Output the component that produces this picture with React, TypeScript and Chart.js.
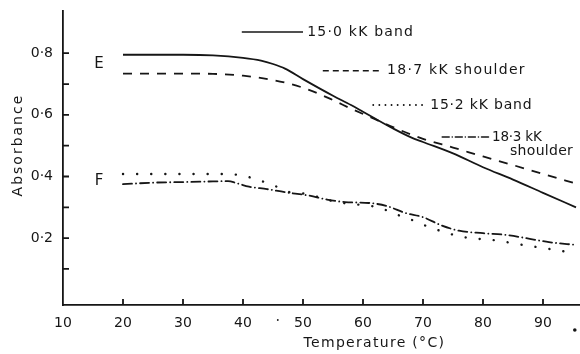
import React, { useEffect, useRef } from "react";
import { Chart, registerables } from "chart.js";

Chart.register(...registerables);

const INK = "#161616";
const FONT = "'DejaVu Sans', 'Noto Sans', sans-serif";

// Axis ranges and ticks
const xMin = 10;
const xMax = 96;
const xTicks = [10, 20, 30, 40, 50, 60, 70, 80, 90];
const yMin = -0.017;
const yMax = 0.937;
const yTicks = [0.1, 0.2, 0.3, 0.4, 0.5, 0.6, 0.7, 0.8];
const yLabelled = [0.2, 0.4, 0.6, 0.8];

// E : 15.0 kK band (solid)
const band150Temp = [20, 25, 30, 35, 40, 43, 45, 47, 50, 55, 58, 60, 62, 65, 68, 70, 75, 80, 85, 90, 95.5];
const band150Abs = [0.795, 0.795, 0.795, 0.793, 0.785, 0.776, 0.765, 0.75, 0.716, 0.662, 0.632, 0.61, 0.588, 0.556, 0.527, 0.512, 0.475, 0.43, 0.39, 0.347, 0.3];

// E : 18.7 kK shoulder (dashed)
const sh187Temp = [20, 25, 30, 35, 40, 45, 50, 55, 58, 62, 65, 70, 75, 80, 85, 90, 95.5];
const sh187Abs = [0.734, 0.734, 0.734, 0.733, 0.727, 0.713, 0.688, 0.648, 0.62, 0.586, 0.56, 0.522, 0.494, 0.465, 0.437, 0.408, 0.377];

// F : 15.2 kK band (dotted)
const band152Temp = [20, 25, 30, 35, 38, 40, 42, 45, 48, 51, 53, 56, 60, 63, 65, 67, 69, 71, 74, 76, 78, 82, 86, 88, 92, 95.5];
const band152Abs = [0.408, 0.408, 0.408, 0.408, 0.407, 0.403, 0.392, 0.372, 0.348, 0.343, 0.33, 0.316, 0.307, 0.298, 0.28, 0.268, 0.252, 0.236, 0.217, 0.206, 0.2, 0.193, 0.18, 0.174, 0.162, 0.15];

// F : 18.3 kK shoulder (dash-dot)
const sh183Temp = [20, 25, 30, 35, 37.5, 39, 41, 44, 47, 51, 54, 57, 61, 64, 67, 70, 73, 76, 80, 84, 88, 91, 95.5];
const sh183Abs = [0.375, 0.38, 0.382, 0.384, 0.385, 0.378, 0.367, 0.359, 0.349, 0.338, 0.325, 0.317, 0.314, 0.304, 0.282, 0.268, 0.242, 0.224, 0.216, 0.21, 0.197, 0.187, 0.178];

// Annotation texts
const noteTexts = ["15·0 kK band", "18·7 kK shoulder", "15·2 kK band", "18·3 kK", "shoulder"];
const curveLetters = ["E", "F"];
const xTitle = "Temperature (°C)";
const yTitle = "Absorbance";

const DASH_SOLID: number[] = [];
const DASH_DASHED = [9, 8];
const DASH_DOTTED = [0.1, 14];
const DASH_DASHDOT = [9, 4, 0.1, 4];

const pts = (t: number[], a: number[]) => t.map((x, i) => ({ x, y: a[i] }));
const fmtY = (v: number) => v.toFixed(1).replace(".", "·");

const overlay = {
  id: "overlay",
  afterDraw(chart: any) {
    const { ctx, chartArea } = chart;
    const xs = chart.scales.x;
    const ys = chart.scales.y;
    const X = (v: number) => xs.getPixelForValue(v);
    const Y = (v: number) => ys.getPixelForValue(v);
    ctx.save();
    ctx.strokeStyle = INK;
    ctx.fillStyle = INK;
    ctx.lineWidth = 1.8;
    ctx.lineCap = "butt";
    // inward tick marks
    ctx.beginPath();
    xTicks.forEach((v) => {
      if (v === xMin) return;
      ctx.moveTo(X(v), chartArea.bottom);
      ctx.lineTo(X(v), chartArea.bottom - 6);
    });
    yTicks.forEach((v) => {
      ctx.moveTo(chartArea.left, Y(v));
      ctx.lineTo(chartArea.left + 6, Y(v));
    });
    ctx.stroke();

    // annotation leader lines
    const leader = (t0: number, t1: number, v: number, dash: number[], round: boolean, w: number) => {
      ctx.save();
      ctx.setLineDash(dash);
      ctx.lineCap = round ? "round" : "butt";
      ctx.lineWidth = w;
      ctx.beginPath();
      ctx.moveTo(X(t0), Y(v));
      ctx.lineTo(X(t1), Y(v));
      ctx.stroke();
      ctx.restore();
    };
    leader(39.8, 50, 0.869, DASH_SOLID, false, 1.4);
    leader(53.3, 62.8, 0.743, [6, 4], false, 1.4);
    leader(61.7, 70.3, 0.632, [0.1, 6], true, 1.8);
    leader(73.2, 81.2, 0.528, [7, 3, 0.1, 3], true, 1.5);

    const text = (s: string, t: number, v: number, size: number, spacing: number, align: CanvasTextAlign = "left") => {
      ctx.save();
      ctx.font = `${size}px ${FONT}`;
      (ctx as any).letterSpacing = `${spacing}px`;
      ctx.textAlign = align;
      ctx.textBaseline = "middle";
      ctx.fillText(s, X(t), Y(v));
      ctx.restore();
    };
    text(noteTexts[0], 50.7, 0.869, 14, 1.2);
    text(noteTexts[1], 64.0, 0.743, 14, 1.3);
    text(noteTexts[2], 71.2, 0.632, 14, 0.8);
    text(noteTexts[3], 81.5, 0.528, 13.5, -0.2);
    text(noteTexts[4], 84.5, 0.48, 14, 0.3);
    text(curveLetters[0], 15.2, 0.765, 15, 0);
    text(curveLetters[1], 15.3, 0.384, 15, 0);

    // axis titles
    ctx.save();
    ctx.font = `14px ${FONT}`;
    (ctx as any).letterSpacing = "1.3px";
    ctx.textAlign = "center";
    ctx.textBaseline = "middle";
    ctx.fillText(xTitle, X(61.9), chartArea.bottom + 38);
    ctx.translate(chartArea.left - 45, Y(0.502));
    ctx.rotate(-Math.PI / 2);
    (ctx as any).letterSpacing = "2px";
    ctx.fillText(yTitle, 0, 0);
    ctx.restore();

    // stray print specks
    ctx.beginPath();
    ctx.arc(X(45.8), chartArea.bottom + 15, 0.9, 0, Math.PI * 2);
    ctx.fill();
    ctx.beginPath();
    ctx.arc(X(95.3), chartArea.bottom + 25, 1.8, 0, Math.PI * 2);
    ctx.fill();
    ctx.restore();
  },
};

export default function App() {
  const ref = useRef<HTMLCanvasElement | null>(null);
  useEffect(() => {
    if (!ref.current) return;
    const line = (label: string, t: number[], a: number[], dash: number[], width: number, cap: CanvasLineCap) => ({
      label,
      data: pts(t, a),
      borderColor: INK,
      backgroundColor: INK,
      borderWidth: width,
      borderDash: dash,
      borderCapStyle: cap,
      pointRadius: 0,
      fill: false,
      cubicInterpolationMode: "monotone" as const,
    });
    const chart = new Chart(ref.current, {
      type: "line",
      data: {
        datasets: [
          line(noteTexts[0], band150Temp, band150Abs, DASH_SOLID, 1.8, "butt"),
          line(noteTexts[1], sh187Temp, sh187Abs, DASH_DASHED, 1.8, "butt"),
          line(noteTexts[2], band152Temp, band152Abs, DASH_DOTTED, 2.4, "round"),
          line("18·3 kK shoulder", sh183Temp, sh183Abs, DASH_DASHDOT, 1.8, "round"),
        ],
      },
      options: {
        responsive: false,
        animation: false,
        devicePixelRatio: 1,
        layout: { padding: { top: 11, right: 1, left: 0, bottom: 0 } },
        plugins: { legend: { display: false }, tooltip: { enabled: false } },
        elements: { point: { radius: 0 } },
        scales: {
          x: {
            type: "linear",
            min: xMin,
            max: xMax,
            afterFit: (s: any) => {
              s.height = 49;
              s.paddingLeft = 0;
              s.paddingRight = 0;
            },
            afterBuildTicks: (s: any) => {
              s.ticks = xTicks.map((value) => ({ value }));
            },
            grid: { display: false, drawTicks: false },
            border: { display: true, color: INK, width: 1.8 },
            ticks: {
              color: INK,
              font: { family: FONT, size: 14 },
              padding: 10,
              autoSkip: false,
              maxRotation: 0,
              callback: (v: any) => String(v),
            },
          },
          y: {
            type: "linear",
            min: yMin,
            max: yMax,
            afterFit: (s: any) => {
              s.width = 63;
              s.paddingTop = 0;
              s.paddingBottom = 0;
            },
            afterBuildTicks: (s: any) => {
              s.ticks = yTicks.map((value) => ({ value }));
            },
            grid: { display: false, drawTicks: false },
            border: { display: true, color: INK, width: 1.8 },
            ticks: {
              color: INK,
              font: { family: FONT, size: 14 },
              padding: 10,
              autoSkip: false,
              callback: (v: any) => {
                const n = Math.round(Number(v) * 10) / 10;
                return yLabelled.includes(n) ? fmtY(n) : "";
              },
            },
          },
        },
      },
      plugins: [overlay],
    });
    return () => chart.destroy();
  }, []);
  return (
    <div style={{ position: "fixed", left: 0, top: 0, width: 580, height: 354, background: "#fff" }}>
      <canvas ref={ref} width={580} height={354} style={{ display: "block", width: 580, height: 354 }} />
    </div>
  );
}
